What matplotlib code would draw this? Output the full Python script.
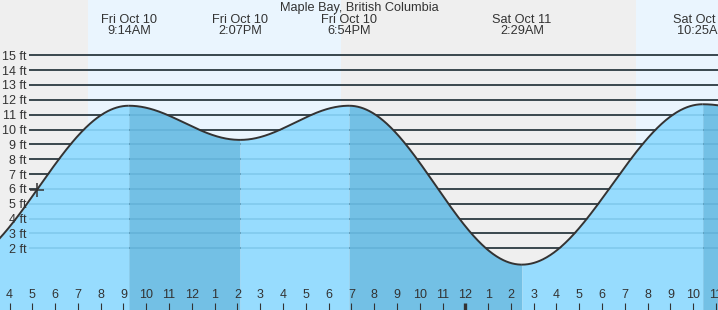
import numpy as np
import matplotlib.pyplot as plt

plt.rcParams['font.family'] = ['Liberation Sans', 'DejaVu Sans']

station = "Maple Bay, British Columbia"

# tide extremes, hours counted from Fri Oct 10 00:00
tide_hours = [1.37, 9.233, 14.117, 18.9, 26.483, 34.417, 40.6]
tide_feet = [0.7, 11.6, 9.3, 11.6, 0.9, 11.7, 9.2]
tide_day = [None, "Fri Oct 10", "Fri Oct 10", "Fri Oct 10", "Sat Oct 11", "Sat Oct 11", None]
tide_time = [None, "9:14AM", "2:07PM", "6:54PM", "2:29AM", "10:25AM", None]

# daylight
sunrise = [7.44, 31.49]
sunset = [18.55, 42.5]

hour_ticks = list(range(4, 36))
hour_labels = [str((h - 1) % 12 + 1) for h in hour_ticks]
ft_levels = list(range(2, 16))
now_hour = 5.21

W, H = 718, 310
fig = plt.figure(figsize=(W / 100, H / 100), dpi=100)
ax = fig.add_axes([0, 0, 1, 1])
px_hour = 22.79
ax.set_xlim(4 - 9.5 / px_hour, 4 + (W - 9.5) / px_hour)
ax.set_ylim(-32 / 14.85, 278 / 14.85)
ybot = ax.get_ylim()[0]

# night / day background
ax.axvspan(*ax.get_xlim(), color='#efefef', zorder=0)
for a, b in zip(sunrise, sunset):
    ax.axvspan(a, b, color='#eaf5fe', lw=0, zorder=0.1)

# level lines
ax.hlines(ft_levels, 29 / W, 1, transform=ax.get_yaxis_transform(),
          color='#333333', lw=1.3, zorder=0.5)


def tide_curve(i):
    t = np.linspace(tide_hours[i], tide_hours[i + 1], 300)
    f = (t - tide_hours[i]) / (tide_hours[i + 1] - tide_hours[i])
    h = tide_feet[i] + (tide_feet[i + 1] - tide_feet[i]) * (1 - np.cos(np.pi * f)) / 2
    return t, h


for i in range(len(tide_hours) - 1):
    t, h = tide_curve(i)
    rising = tide_feet[i + 1] > tide_feet[i]
    ax.fill_between(t, ybot, h, color='#97dcfe' if rising else '#73c0e5',
                    lw=0, zorder=1)
    ax.plot(t, h, color='#333333', lw=1.4, zorder=2, solid_capstyle='butt')

# faint lines seen through the water
ax.hlines(ft_levels, 29 / W, 1, transform=ax.get_yaxis_transform(),
          color='#1a6f9a', lw=1.3, alpha=0.16, zorder=1.2)

# current position marker
i_now = np.searchsorted(tide_hours, now_hour) - 1
t, h = tide_curve(i_now)
ax.plot(now_hour, np.interp(now_hour, t, h), marker='+', ms=10, mew=1.1,
        color='#333333', zorder=2.2)

# labels for highs and lows
for x, d, tm in zip(tide_hours, tide_day, tide_time):
    if d is None:
        continue
    ax.text(x, 1 - 23.3 / H, d, transform=ax.get_xaxis_transform(),
            ha='center', va='baseline', fontsize=9.2, color='#333333')
    ax.text(x, 1 - 34.3 / H, tm, transform=ax.get_xaxis_transform(),
            ha='center', va='baseline', fontsize=9.2, color='#333333')

ax.text(359 / W, 1 - 11 / H, station, transform=ax.transAxes,
        ha='center', va='baseline', fontsize=9.2, color='#333333')

# axes
for s in ax.spines.values():
    s.set_visible(False)
ax.set_axisbelow(False)
ax.set_yticks(ft_levels, labels=[f"{v} ft" for v in ft_levels])
ax.tick_params(axis='y', direction='in', length=0, pad=-27 * 0.72,
               labelsize=9, labelcolor='#333333')
ax.set_xticks(hour_ticks, labels=hour_labels)
ax.tick_params(axis='x', direction='in', length=5, width=0.8, color='#333333',
               pad=-15, labelsize=9, labelcolor='#333333')
for tk, hr in zip(ax.xaxis.get_major_ticks(), hour_ticks):
    if hr % 24 == 0:
        tk.tick1line.set_markeredgewidth(2.4)

fig.savefig('out.png', dpi=100)
